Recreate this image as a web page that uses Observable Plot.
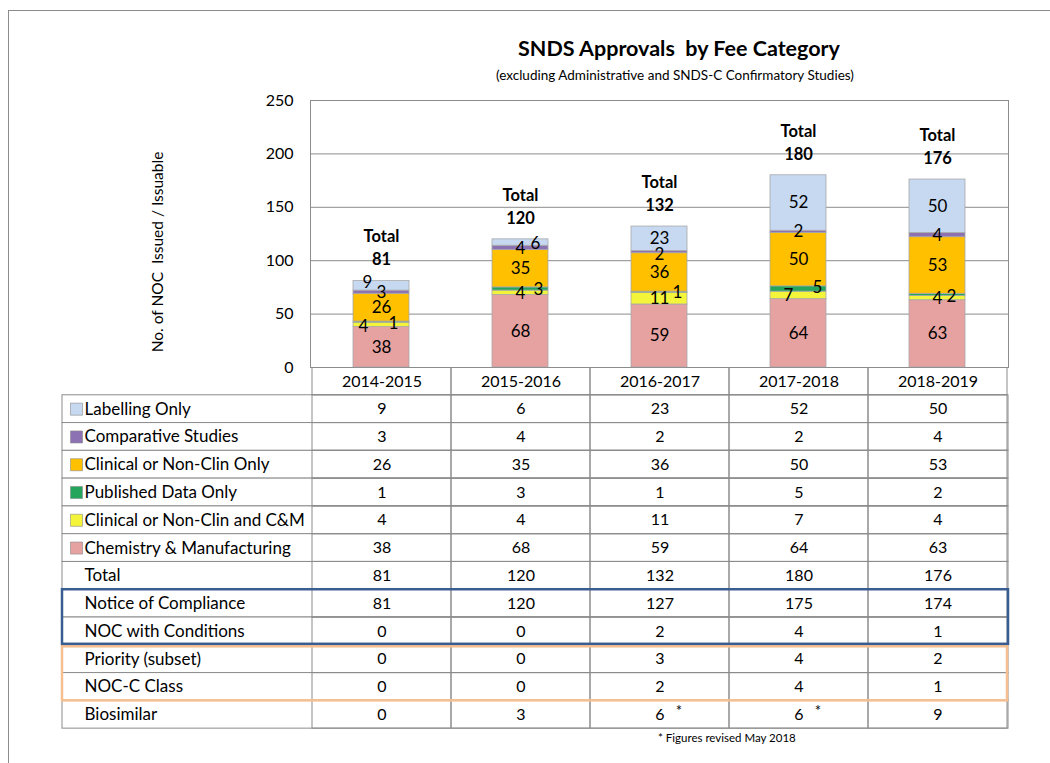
<!DOCTYPE html>
<html>
<head>
<meta charset="utf-8">
<script src="https://cdn.jsdelivr.net/npm/d3@7"></script>
<script src="https://cdn.jsdelivr.net/npm/@observablehq/plot@0.6"></script>
<style>
  body { margin: 0; background: #fff; font-family: Lato, "Open Sans", sans-serif; }
  #page { position: relative; width: 1050px; height: 763px; overflow: hidden; background: #fff; }
  #outer { position: absolute; left: 8px; top: 10px; width: 1100px; height: 800px; border-left: 1px solid #8c8c8c; border-top: 1px solid #8c8c8c; }
  #title { position: absolute; left: 429px; width: 500px; top: 34px; text-align: center; font-weight: bold; font-size: 21.5px; line-height: 28px; color: #000; }
  #subtitle { position: absolute; left: 425px; width: 500px; top: 66px; text-align: center; font-size: 13.5px; line-height: 18px; color: #000; }
  #chart { position: absolute; left: 0; top: 0; }
  #table { position: absolute; left: 0; top: 367px; }
  #note { position: absolute; left: 658px; top: 730px; font-size: 11.5px; line-height: 16px; color: #000; }
</style>
</head>
<body>
<div id="page">
  <div id="outer"></div>
  <div id="chart"></div>
  <div id="table"></div>
  <div id="title">SNDS Approvals&nbsp; by Fee Category</div>
  <div id="subtitle">(excluding Administrative and SNDS-C Confirmatory Studies)</div>
  <div id="note">* Figures revised May 2018</div>
</div>
<script>
// ---------- DATA ----------
const years = ["2014-2015", "2015-2016", "2016-2017", "2017-2018", "2018-2019"];
const categories = [
  "Labelling Only",
  "Comparative Studies",
  "Clinical or Non-Clin Only",
  "Published Data Only",
  "Clinical or Non-Clin and C&M",
  "Chemistry & Manufacturing"
];
const labellingOnly          = [9, 6, 23, 52, 50];
const comparativeStudies     = [3, 4, 2, 2, 4];
const clinicalOnly           = [26, 35, 36, 50, 53];
const publishedDataOnly      = [1, 3, 1, 5, 2];
const clinicalAndCM          = [4, 4, 11, 7, 4];
const chemistryManufacturing = [38, 68, 59, 64, 63];
const totals                 = [81, 120, 132, 180, 176];
const noticeOfCompliance     = [81, 120, 127, 175, 174];
const nocWithConditions      = [0, 0, 2, 4, 1];
const prioritySubset         = [0, 0, 3, 4, 2];
const nocCClass              = [0, 0, 2, 4, 1];
const biosimilar             = [0, 3, 6, 6, 9];
const biosimilarRevised      = [false, false, true, true, false];
const yTicks = [0, 50, 100, 150, 200, 250];
const axisTitle = "No. of NOC  Issued / Issuable";
const totalWord = "Total";

// ---------- STYLE ----------
const seriesValues = [labellingOnly, comparativeStudies, clinicalOnly, publishedDataOnly, clinicalAndCM, chemistryManufacturing];
const colors = ["#C6D9F1", "#8D72B3", "#FFC000", "#25A55C", "#F4F43A", "#E6A1A1"];
const grid = "#8c8c8c";
const FONT = "Lato, 'Open Sans', sans-serif";
// per-label nudges [dx, dy] (pixel styling for small segments), keyed year|category
const labelNudges = {
  "2014-2015|Labelling Only": [-14, -3],
  "2014-2015|Published Data Only": [12, 1],
  "2014-2015|Clinical or Non-Clin and C&M": [-18, 2],
  "2015-2016|Labelling Only": [15, 1],
  "2015-2016|Comparative Studies": [0, 1],
  "2015-2016|Published Data Only": [18, 1],
  "2015-2016|Clinical or Non-Clin and C&M": [0, 1],
  "2016-2017|Comparative Studies": [0, 2],
  "2016-2017|Published Data Only": [18, 0],
  "2017-2018|Published Data Only": [19, -1],
  "2017-2018|Clinical or Non-Clin and C&M": [-10, 0],
  "2018-2019|Published Data Only": [14, 2]
};

// ---------- DERIVED (stacking) ----------
const stacked = [];
years.forEach((year, j) => {
  let cum = 0;
  for (let k = categories.length - 1; k >= 0; k--) {
    const v = seriesValues[k][j];
    stacked.push({year, category: categories[k], value: v, y1: cum, y2: cum + v, mid: cum + v / 2});
    cum += v;
  }
});
const totalData = years.map((year, j) => ({year, total: totals[j]}));

const segmentLabels = stacked.map(d => {
  const [dx, dy] = labelNudges[d.year + "|" + d.category] || [0, 0];
  return Plot.text([d], {x: "year", y: "mid", text: d => String(d.value), dx, dy, fontSize: 17, fill: "#000", fontFamily: FONT});
});

const chart = Plot.plot({
  width: 1050, height: 394,
  marginLeft: 310, marginRight: 42, marginTop: 100, marginBottom: 27,
  style: {fontFamily: FONT, background: "transparent", color: "#000"},
  x: {domain: years, paddingInner: 0.6, paddingOuter: 0.3, axis: null},
  y: {domain: [0, 250], axis: null},
  color: {domain: categories, range: colors},
  marks: [
    Plot.gridY(yTicks, {stroke: grid, strokeOpacity: 1}),
    Plot.frame({stroke: grid}),
    Plot.axisY(yTicks, {tickSize: 0, tickPadding: 17, fontSize: 16, label: null, fill: "#000"}),
    Plot.barY(stacked, {x: "year", y1: "y1", y2: "y2", fill: "category", stroke: "#a8a8a8", strokeWidth: 0.8}),
    ...segmentLabels,
    Plot.text(totalData, {x: "year", y: "total", text: () => totalWord, dy: -44, fontSize: 16.5, fontWeight: "bold", fill: "#000"}),
    Plot.text(totalData, {x: "year", y: "total", text: d => String(d.total), dy: -21, fontSize: 16.5, fontWeight: "bold", fill: "#000"}),
    Plot.text([axisTitle], {frameAnchor: "left", textAnchor: "middle", text: d => d, rotate: -90, dx: -152, dy: 18, fontSize: 15.5, fill: "#000"})
  ]
});
document.getElementById("chart").appendChild(chart);

// ---------- TABLE ----------
const tableRows = [
  ...categories.map((c, k) => ({label: c, values: seriesValues[k], swatch: c})),
  {label: "Total", values: totals},
  {label: "Notice of Compliance", values: noticeOfCompliance},
  {label: "NOC with Conditions", values: nocWithConditions},
  {label: "Priority (subset)", values: prioritySubset},
  {label: "NOC-C Class", values: nocCClass},
  {label: "Biosimilar", values: biosimilar, flags: biosimilarRevised}
];
tableRows.forEach((r, i) => r.row = i + 1);
const nRows = tableRows.length + 1;
const rowH = 27.78;
const headerCells = years.map(year => ({year, row: 0}));
const bodyCells = tableRows.flatMap(r => years.map((year, j) => ({year, row: r.row, value: r.values[j], flag: r.flags ? r.flags[j] : false})));
const idx = label => tableRows.find(r => r.label === label).row;
const blueBox = [{y1: idx("Notice of Compliance"), y2: idx("NOC with Conditions") + 1}];
const orangeBox = [{y1: idx("Priority (subset)"), y2: idx("NOC-C Class") + 1}];

const table = Plot.plot({
  width: 1050, height: 396,
  marginLeft: 62, marginRight: 42, marginTop: 0, marginBottom: 0,
  style: {fontFamily: FONT, background: "transparent", color: "#000"},
  x: {domain: years, range: [310, 1008], padding: 0, axis: null},
  y: {domain: [0, nRows], range: [0, nRows * rowH], axis: null},
  color: {domain: categories, range: colors},
  marks: [
    Plot.rect(tableRows, {y1: "row", y2: d => d.row + 1, fill: "white", stroke: grid, strokeWidth: 1}),
    Plot.barY([...headerCells, ...bodyCells], {x: "year", y1: "row", y2: d => d.row + 1, fill: "none", stroke: grid, strokeWidth: 1}),
    Plot.rect(orangeBox, {y1: "y1", y2: "y2", insetTop: 1.5, insetRight: 1, fill: "none", stroke: "#F5BF92", strokeWidth: 2.5}),
    Plot.rect(blueBox, {y1: "y1", y2: "y2", insetBottom: 1, fill: "none", stroke: "#3A5D91", strokeWidth: 2.5}),
    Plot.text(headerCells, {x: "year", y: d => d.row + 0.5, text: "year", fontSize: 16, fill: "#000"}),
    Plot.text(bodyCells, {x: "year", y: d => d.row + 0.5, text: d => String(d.value), fontSize: 16, fill: "#000"}),
    Plot.text(bodyCells.filter(d => d.flag), {x: "year", y: d => d.row + 0.5, text: () => "*", dx: 19, dy: -4, fontSize: 15, fill: "#000"}),
    Plot.dot(tableRows.filter(r => r.swatch), {y: d => d.row + 0.5, frameAnchor: "left", dx: 14, symbol: "square", r: 6.8, fill: "swatch", stroke: "#8a8a8a", strokeWidth: 0.6}),
    Plot.text(tableRows, {y: d => d.row + 0.5, text: "label", frameAnchor: "left", textAnchor: "start", dx: 22, fontSize: 17, fill: "#000"})
  ]
});
document.getElementById("table").appendChild(table);
</script>
</body>
</html>
